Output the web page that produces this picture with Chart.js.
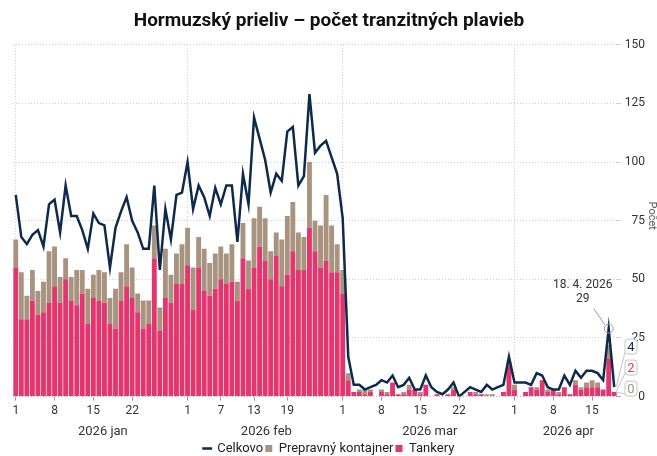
<!DOCTYPE html>
<html>
<head>
<meta charset="utf-8">
<script src="https://cdn.jsdelivr.net/npm/chart.js@4/dist/chart.umd.min.js"></script>
<style>
  html, body { margin: 0; padding: 0; background: #fff; }
  #wrap { width: 657px; height: 456px; position: relative; }
</style>
</head>
<body>
<div id="wrap"><canvas id="c"></canvas></div>
<script>
// ---------- data ----------
const year = 2026;
const monthNames = ['jan', 'feb', 'mar', 'apr'];
const monthLengths = [31, 28, 31, 19];
const tickLabelDays = { jan: [1, 8, 15, 22], feb: [1, 7, 13, 19], mar: [1, 8, 15, 22], apr: [1, 8, 15] };

const tankery = [
  55,33,33,41,35,36,40,47,40,50,41,39,44,31,42,41,40,31,29,41,47,42,36,29,31,59,28,42,40,48,48,
  56,37,55,45,43,46,50,48,49,41,59,46,55,64,58,50,60,47,52,62,54,54,72,62,55,58,53,53,
  44,7,2,2,1,2,0,2,1,6,1,1,3,3,1,5,0,1,0,1,3,0,0,2,1,1,0,0,0,2,13,
  3,0,2,4,3,7,2,3,1,4,1,5,3,4,4,4,3,16,2
];
const kontajner = [
  12,20,10,13,10,13,22,17,11,9,10,15,10,15,10,13,13,11,17,12,18,13,8,12,10,14,10,21,12,13,17,
  16,18,13,18,14,15,14,13,16,8,15,12,21,17,18,12,10,20,25,21,16,14,28,13,18,28,20,12,
  10,3,0,1,2,1,0,1,1,0,0,1,2,0,1,0,0,0,0,0,1,0,0,0,1,0,1,1,0,0,2,
  2,0,0,0,1,0,1,0,1,0,0,2,1,2,3,2,0,6,0
];
const celkovo = [
  86,68,65,69,71,64,82,84,70,90,77,77,71,63,78,74,73,55,72,79,85,75,70,63,63,90,54,80,67,86,87,
  100,80,90,85,77,89,82,90,90,66,95,82,119,110,101,87,95,92,113,115,90,94,129,104,107,109,102,95,
  76,17,5,5,3,4,5,7,6,9,4,5,8,3,3,9,4,2,1,3,6,0,2,4,3,2,5,3,4,5,17,
  6,6,6,5,10,9,4,3,3,9,5,11,8,11,11,10,7,29,4
];
const annotatedLabel = '18. 4. 2026';
const yTitle = 'Počet';

// ---------- categories ----------
const labels = [], monthOf = [], dayOf = [];
monthNames.forEach((m, mi) => {
  for (let d = 1; d <= monthLengths[mi]; d++) {
    labels.push(d + '. ' + (mi + 1) + '. ' + year);
    monthOf.push(m); dayOf.push(d);
  }
});

const NAVY = '#0e2a4b', PINK = '#e2366f', TAN = '#a8937f';
const FONT = 'Roboto';
const isLabeled = i => tickLabelDays[monthOf[i]].includes(dayOf[i]);

// ---------- plugins ----------
const extraText = {
  id: 'extraText',
  afterDraw(chart) {
    const x = chart.scales.x, y = chart.scales.y, ctx = chart.ctx;
    ctx.save();
    ctx.font = '13px ' + FONT; ctx.fillStyle = '#333';
    ctx.textAlign = 'center'; ctx.textBaseline = 'middle';
    monthNames.forEach(m => {
      const a = monthOf.indexOf(m), b = monthOf.lastIndexOf(m);
      const px = (x.getPixelForValue(a) + x.getPixelForValue(b)) / 2 + 4;
      ctx.fillText(year + ' ' + m, px, x.bottom - 8);
    });
    ctx.translate(chart.width - 5, (y.top + y.bottom) / 2 - 5);
    ctx.rotate(Math.PI / 2);
    ctx.font = '11px ' + FONT; ctx.fillStyle = '#555';
    ctx.fillText(yTitle, 0, 0);
    ctx.restore();
  }
};

const peakNote = {
  id: 'peakNote',
  afterDatasetsDraw(chart) {
    const idx = labels.indexOf(annotatedLabel);
    const pt = chart.getDatasetMeta(0).data[idx];
    if (!pt) return;
    const ctx = chart.ctx;
    ctx.save();
    ctx.strokeStyle = '#9a9a9a'; ctx.lineWidth = 1;
    ctx.beginPath(); ctx.arc(pt.x, pt.y, 4.5, 0, Math.PI * 2); ctx.stroke();
    ctx.beginPath(); ctx.moveTo(pt.x - 4, pt.y - 4); ctx.lineTo(pt.x - 15, pt.y - 20); ctx.stroke();
    ctx.font = '12px ' + FONT; ctx.fillStyle = '#333';
    ctx.textAlign = 'center'; ctx.textBaseline = 'middle';
    ctx.fillText(labels[idx], pt.x - 26, pt.y - 44);
    ctx.fillText(String(celkovo[idx]), pt.x - 26, pt.y - 30);
    ctx.restore();
  }
};

const endLabels = {
  id: 'endLabels',
  afterDraw(chart) {
    const ctx = chart.ctx, area = chart.chartArea;
    const last = labels.length - 1;
    const items = [
      { ds: 2, color: TAN, value: kontajner[last] },
      { ds: 1, color: PINK, value: tankery[last] },
      { ds: 0, color: NAVY, value: celkovo[last] }
    ];
    let y = area.bottom - 8;
    ctx.save();
    items.forEach(it => {
      const el = chart.getDatasetMeta(it.ds).data[last];
      const bx = area.right + 8, bw = 12, bh = 15;
      ctx.strokeStyle = '#c4c4c4'; ctx.lineWidth = 1;
      ctx.beginPath(); ctx.moveTo(el.x + 2, el.y); ctx.lineTo(bx, y + bh / 2 - 2); ctx.stroke();
      ctx.fillStyle = '#fff';
      ctx.beginPath(); ctx.roundRect(bx, y - bh / 2, bw, bh, 3); ctx.fill(); ctx.stroke();
      ctx.font = '13px ' + FONT; ctx.fillStyle = it.color;
      ctx.textAlign = 'center'; ctx.textBaseline = 'middle';
      ctx.fillText(String(it.value), bx + bw / 2, y + 1);
      y -= 21;
    });
    ctx.restore();
  }
};

// ---------- chart ----------
const legendRank = { 'Celkovo': 0, 'Prepravný kontajner': 1, 'Tankery': 2 };

new Chart(document.getElementById('c'), {
  data: {
    labels: labels,
    datasets: [
      { type: 'line', label: 'Celkovo', data: celkovo, borderColor: NAVY, backgroundColor: NAVY,
        borderWidth: 2.5, pointRadius: 0, tension: 0, order: 0, stack: 'total', pointStyle: 'line' },
      { type: 'bar', label: 'Tankery', data: tankery, backgroundColor: PINK, order: 1, stack: 'ships',
        barPercentage: 0.88, categoryPercentage: 1, pointStyle: 'rect' },
      { type: 'bar', label: 'Prepravný kontajner', data: kontajner, backgroundColor: TAN, order: 2, stack: 'ships',
        barPercentage: 0.88, categoryPercentage: 1, pointStyle: 'rect' }
    ]
  },
  options: {
    responsive: true, maintainAspectRatio: false, animation: false,
    layout: { padding: { left: 13, right: 12, top: 0, bottom: -9 } },
    plugins: {
      title: { display: true, text: 'Hormuzský prieliv – počet tranzitných plavieb',
        font: { family: FONT, size: 19, weight: 'bold' }, color: '#111', padding: { top: 10, bottom: 12 } },
      legend: { position: 'bottom',
        labels: { font: { family: FONT, size: 13 }, color: '#222', usePointStyle: true, boxWidth: 7, boxHeight: 7, padding: 2,
          sort: (a, b) => legendRank[a.text] - legendRank[b.text] } },
      tooltip: { enabled: false }
    },
    scales: {
      x: {
        stacked: true,
        ticks: { autoSkip: false, maxRotation: 0, minRotation: 0, padding: 3,
          font: { family: FONT, size: 12 }, color: '#333',
          callback: (v, i) => isLabeled(i) ? String(dayOf[i]) : '' },
        grid: { offset: false, drawTicks: true, tickLength: 4,
          color: c => dayOf[c.index] === 1 ? '#c8c8c8' : 'rgba(0,0,0,0)',
          tickColor: c => isLabeled(c.index) ? '#999' : 'rgba(0,0,0,0)' },
        border: { display: false, dash: [1, 2] },
        afterFit: axis => { axis.height += 19; }
      },
      y: {
        position: 'right', stacked: true, min: 0, max: 150,
        ticks: { stepSize: 25, padding: 4, crossAlign: 'far', font: { family: FONT, size: 12 }, color: '#333' },
        grid: { color: c => c.tick && c.tick.value === 0 ? '#b0b0b0' : '#cfcfcf', tickLength: 4 },
        border: { display: false, dash: [1, 2] },
        title: { display: false },
        afterFit: axis => { axis.width = 28; }
      }
    }
  },
  plugins: [extraText, peakNote, endLabels]
});
</script>
</body>
</html>
